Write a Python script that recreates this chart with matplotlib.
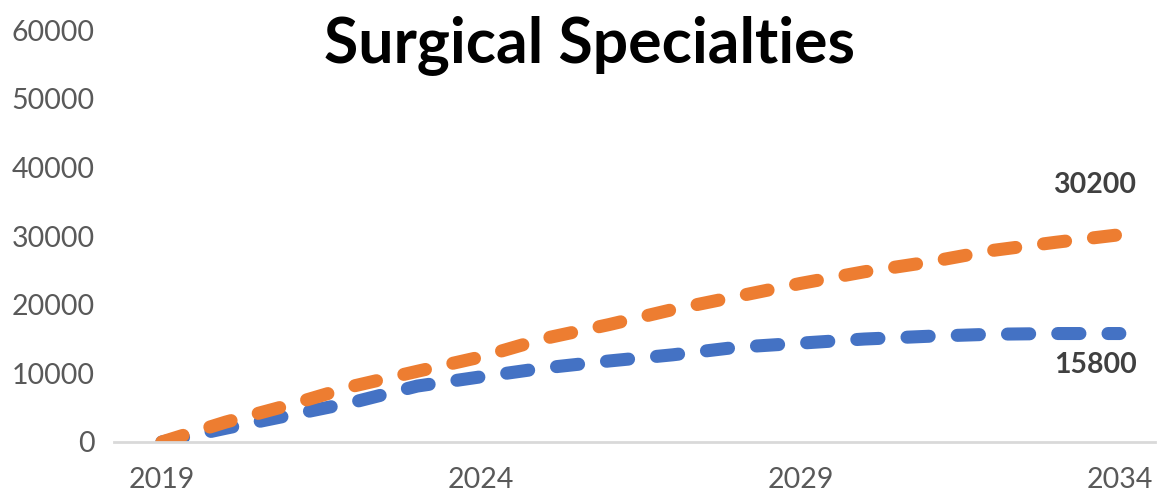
import matplotlib.pyplot as plt

plt.rcParams['font.family'] = ['Lato', 'DejaVu Sans']

# Data
years = list(range(2019, 2035))
demand = [0, 2900, 5400, 8150, 10300, 12400, 15100, 17100, 19300, 21200,
          23100, 24800, 26200, 27900, 29100, 30200]
supply = [0, 2000, 3900, 5800, 8150, 9500, 10800, 11800, 12700, 13800,
          14400, 15000, 15400, 15700, 15800, 15800]
xticks = [2019, 2024, 2029, 2034]
title = "Surgical Specialties"

orange = '#ED7D31'
blue = '#4472C4'
grey = '#595959'

fig = plt.figure(figsize=(11.58, 5.01), dpi=100)
ax = fig.add_axes([0.0984, 0.1178, 0.899, 0.822])

ax.plot(years, supply, color=blue, lw=9.4, dashes=(1.7, 2.15),
        dash_capstyle='round')
ax.plot(years, demand, color=orange, lw=9.4, dashes=(1.7, 2.15),
        dash_capstyle='round')

ax.set_xlim(2018.25, 2034.55)
ax.set_ylim(0, 60000)
ax.set_yticks(range(0, 60001, 10000))
ax.set_xticks(xticks)
ax.tick_params(length=0, labelsize=20.5, labelcolor=grey)
ax.tick_params(axis='y', pad=14)
ax.tick_params(axis='x', pad=18)

for s in ['top', 'right', 'left']:
    ax.spines[s].set_visible(False)
ax.spines['bottom'].set_color('#D9D9D9')
ax.spines['bottom'].set_linewidth(2)

# end labels
ax.annotate(str(demand[-1]), xy=(years[-1], demand[-1]), xytext=(12, 36),
            textcoords='offset points', ha='right', va='center',
            fontsize=20.5, fontweight='bold', color='#404040')
ax.annotate(str(supply[-1]), xy=(years[-1], supply[-1]), xytext=(12, -23),
            textcoords='offset points', ha='right', va='center',
            fontsize=20.5, fontweight='bold', color='#404040')

fig.text(590 / 1158, 1 - 45 / 501, title, ha='center', va='center',
         fontsize=45, fontweight='bold', color='black')

fig.savefig('out.png', dpi=100)
